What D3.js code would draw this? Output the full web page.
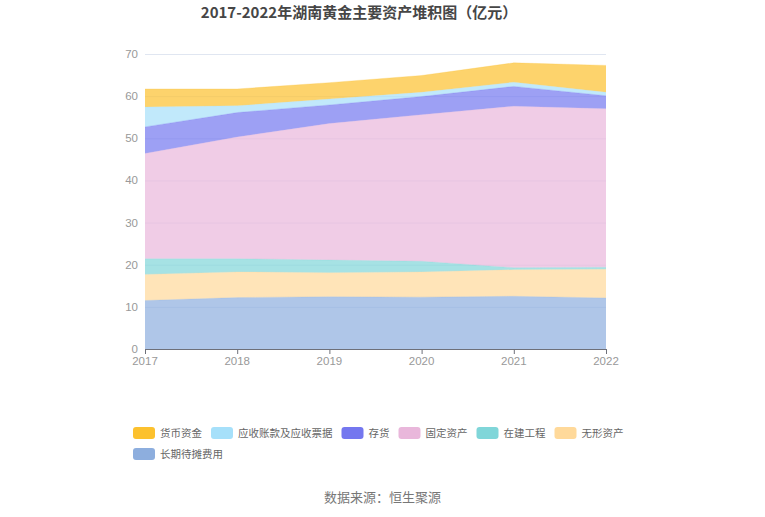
<!DOCTYPE html>
<html>
<head>
<meta charset="utf-8">
<script src="https://cdn.jsdelivr.net/npm/d3@7"></script>
<style>
html,body{margin:0;padding:0;background:#fff;}
svg{display:block;font-family:"Noto Sans CJK SC","Noto Sans",sans-serif;}
.num{font-family:"Liberation Sans",Arial,sans-serif;}
</style>
</head>
<body>
<svg id="chart" width="765" height="517"></svg>
<script>
const years = ["2017","2018","2019","2020","2021","2022"];
const seriesNames = ["货币资金","应收账款及应收票据","存货","固定资产","在建工程","无形资产","长期待摊费用"];
const colors = ["#fcc12e","#a6e0fa","#7477ef","#e9b7db","#80d6d9","#ffd99a","#8daede"];
const cash        = [4.3, 4.0, 3.9, 4.0, 4.6, 6.4];
const receivables = [4.7, 1.6, 1.4, 1.0, 1.0, 0.8];
const inventory   = [6.3, 5.8, 4.4, 4.3, 4.7, 3.1];
const fixedAssets = [25.0, 28.9, 32.4, 34.8, 38.3, 37.6];
const construction= [3.7, 3.1, 3.0, 2.5, 0.5, 0.5];
const intangible  = [6.2, 6.1, 5.7, 6.0, 6.3, 6.8];
const longPrepaid = [11.5, 12.2, 12.4, 12.3, 12.5, 12.1];
const yTicks = [0,10,20,30,40,50,60,70];

const seriesValues = [cash, receivables, inventory, fixedAssets, construction, intangible, longPrepaid];
// stacking order: bottom first (长期待摊费用 at bottom)
const stackOrder = [6,5,4,3,2,1,0];

const svg = d3.select("#chart");
const plotLeft = 145, plotRight = 606, plotTop = 54, plotBottom = 349;

const x = d3.scalePoint().domain(years).range([plotLeft, plotRight]);
const y = d3.scaleLinear().domain([0, 70]).range([plotBottom, plotTop]);

// title
svg.append("text").attr("x", 359).attr("y", 18).attr("text-anchor","middle")
  .attr("font-size", 15).attr("font-weight","bold").attr("fill","#464646")
  .text("2017-2022年湖南黄金主要资产堆积图（亿元）");

// grid
svg.append("g").selectAll("line").data(yTicks.slice(1)).join("line")
  .attr("x1", plotLeft).attr("x2", plotRight)
  .attr("y1", d => y(d) + 0.5).attr("y2", d => y(d) + 0.5)
  .attr("stroke", "#e0e6f1").attr("stroke-width", 1);

// stack
const rows = years.map((yr, i) => {
  const o = {year: yr};
  seriesNames.forEach((n, k) => o[n] = seriesValues[k][i]);
  return o;
});
const stack = d3.stack().keys(stackOrder.map(k => seriesNames[k]));
const stacked = stack(rows);

const area = d3.area()
  .x(d => x(d.data.year))
  .y0(d => y(d[0]))
  .y1(d => y(d[1]));

svg.append("g").selectAll("path").data(stacked).join("path")
  .attr("d", area)
  .attr("fill", d => colors[seriesNames.indexOf(d.key)])
  .attr("fill-opacity", 0.7);

svg.append("g").selectAll("path").data(stacked).join("path")
  .attr("d", d3.line().x(d => x(d.data.year)).y(d => y(d[1])))
  .attr("fill", "none")
  .attr("stroke", d => colors[seriesNames.indexOf(d.key)])
  .attr("stroke-opacity", 0.25)
  .attr("stroke-width", 1);

// y axis labels
svg.append("g").selectAll("text").data(yTicks).join("text")
  .attr("class", "num")
  .attr("x", 138).attr("y", d => y(d)).attr("dy", "0.35em")
  .attr("text-anchor", "end").attr("font-size", 11.5).attr("fill", "#999")
  .text(d => d);

// x axis
const xg = svg.append("g").attr("transform", `translate(0,${plotBottom})`);
xg.append("line").attr("x1", plotLeft).attr("x2", plotRight).attr("y1", 0.5).attr("y2", 0.5)
  .attr("stroke", "#6e7079");
xg.selectAll("line.tick").data(years).join("line").attr("class","tick")
  .attr("x1", d => x(d) + 0.5).attr("x2", d => x(d) + 0.5).attr("y1", 0).attr("y2", 5)
  .attr("stroke", "#6e7079");
xg.selectAll("text").data(years).join("text")
  .attr("class", "num")
  .attr("x", d => x(d)).attr("y", 16)
  .attr("text-anchor", "middle").attr("font-size", 11.5).attr("fill", "#999")
  .text(d => d);

// legend
const legend = svg.append("g");
let lx = 133, ly = 427;
const rowStartX = 133, maxX = 650;
seriesNames.forEach((n, k) => {
  const g = legend.append("g");
  g.append("rect").attr("x", 0).attr("y", 0).attr("width", 22).attr("height", 12)
    .attr("rx", 3).attr("fill", colors[k]);
  const t = g.append("text").attr("x", 27).attr("y", 6).attr("dy", "0.35em")
    .attr("font-size", 10.5).attr("fill", "#666").text(n);
  const w = 27 + t.node().getComputedTextLength();
  if (lx + w > maxX) { lx = rowStartX; ly += 21; }
  g.attr("transform", `translate(${lx},${ly})`);
  lx += w + 9;
});

// source
svg.append("text").attr("x", 382.5).attr("y", 502).attr("text-anchor","middle")
  .attr("font-size", 13).attr("fill", "#777").text("数据来源：恒生聚源");
</script>
</body>
</html>
